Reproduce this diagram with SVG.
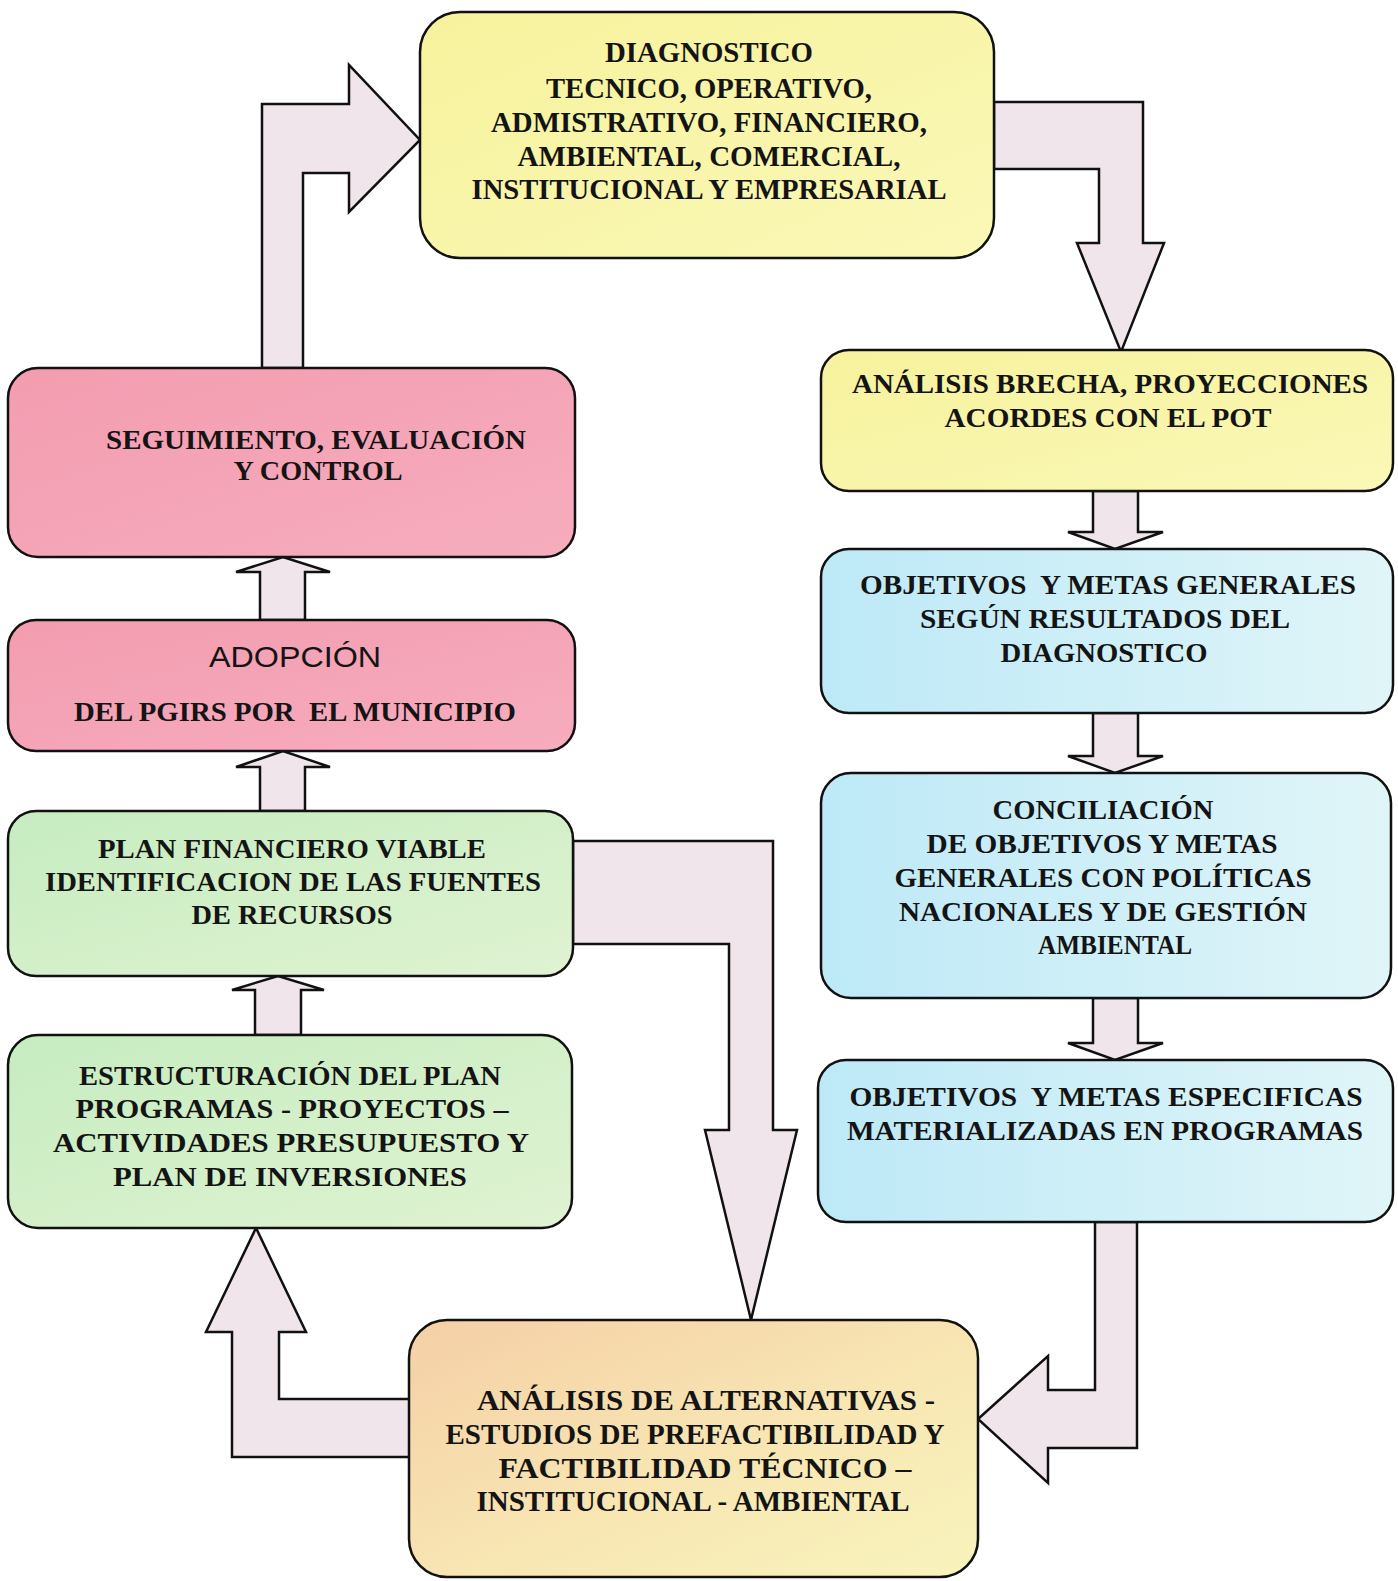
<svg xmlns="http://www.w3.org/2000/svg" width="1398" height="1581" viewBox="0 0 1398 1581">
<defs>
<linearGradient id="gYellow" x1="0" y1="0" x2="1" y2="1"><stop offset="0" stop-color="#f6f29c"/><stop offset="1" stop-color="#fbf8b8"/></linearGradient>
<linearGradient id="gPink" x1="0" y1="0" x2="1" y2="1"><stop offset="0" stop-color="#f39cb0"/><stop offset="1" stop-color="#f6adbe"/></linearGradient>
<linearGradient id="gBlue" x1="0" y1="0" x2="1" y2="0"><stop offset="0" stop-color="#bde9f7"/><stop offset="1" stop-color="#e0f5f8"/></linearGradient>
<linearGradient id="gGreen" x1="0" y1="0" x2="1" y2="1"><stop offset="0" stop-color="#c6ecc0"/><stop offset="1" stop-color="#e0f3d2"/></linearGradient>
<linearGradient id="gPeach" x1="0" y1="0" x2="1" y2="1"><stop offset="0" stop-color="#f5cfa6"/><stop offset="0.6" stop-color="#f8e8b4"/><stop offset="1" stop-color="#f8f3bc"/></linearGradient>
</defs>
<style>
.box{stroke:#111;stroke-width:2.5}
.arr{fill:#efe5ea;stroke:#111;stroke-width:2.5;stroke-linejoin:miter}
.t{font-family:"Liberation Serif","Times New Roman",serif;font-weight:bold;font-size:28px;fill:#141414;text-anchor:middle;white-space:pre}
.c{font-size:29px}
.s{font-family:"Liberation Sans",Arial,sans-serif;font-size:29px;fill:#141414;text-anchor:middle}
</style>
<rect width="1398" height="1581" fill="#ffffff"/>

<g id="connectors">
<path class="arr" d="M262 368 L262 104 L349 104 L349 65 L420 140 L349 212 L349 173 L303 173 L303 368 Z"/>
<path class="arr" d="M994 102 L1143 102 L1143 243 L1164 243 L1121 352 L1077 243 L1099 243 L1099 169 L994 169 Z"/>
<path class="arr" d="M1093 491 L1093 532 L1068 532 L1115 549 L1163 532 L1138 532 L1138 491 Z"/>
<path class="arr" d="M1093 713 L1093 756 L1068 756 L1115 773 L1163 756 L1138 756 L1138 713 Z"/>
<path class="arr" d="M1093 998 L1093 1043 L1068 1043 L1115 1060 L1163 1043 L1138 1043 L1138 998 Z"/>
<path class="arr" d="M1095 1222 L1095 1390 L1048 1390 L1048 1356 L978 1419 L1048 1483 L1048 1448 L1137 1448 L1137 1222 Z"/>
<path class="arr" d="M573 841 L773 841 L773 1130 L797 1130 L751 1320 L705 1130 L729 1130 L729 944 L573 944 Z"/>
<path class="arr" d="M410 1457 L232 1457 L232 1332 L206 1332 L256 1228 L306 1332 L279 1332 L279 1399 L410 1399 Z"/>
<path class="arr" d="M255 1035 L255 990 L232 990 L278 976 L324 990 L301 990 L301 1035 Z"/>
<path class="arr" d="M260 811 L260 767 L236 767 L283 751 L330 767 L305 767 L305 811 Z"/>
<path class="arr" d="M260 620 L260 572 L236 572 L283 557 L330 572 L305 572 L305 620 Z"/>
</g>

<g id="n-diagnostico">
<rect class="box" x="420" y="12" width="574" height="246" rx="40" fill="url(#gYellow)"/>
<text class="t c" x="709" y="62" textLength="208" lengthAdjust="spacingAndGlyphs">DIAGNOSTICO</text>
<text class="t c" x="709" y="98" textLength="326" lengthAdjust="spacingAndGlyphs">TECNICO, OPERATIVO,</text>
<text class="t c" x="709" y="132" textLength="436" lengthAdjust="spacingAndGlyphs">ADMISTRATIVO, FINANCIERO,</text>
<text class="t c" x="709" y="166" textLength="383" lengthAdjust="spacingAndGlyphs">AMBIENTAL, COMERCIAL,</text>
<text class="t c" x="709" y="199" textLength="475" lengthAdjust="spacingAndGlyphs">INSTITUCIONAL Y EMPRESARIAL</text>
</g>

<g id="n-brecha">
<rect class="box" x="821" y="350" width="572" height="141" rx="28" fill="url(#gYellow)"/>
<text class="t" x="1110" y="393" textLength="516" lengthAdjust="spacingAndGlyphs">ANÁLISIS BRECHA, PROYECCIONES</text>
<text class="t" x="1108" y="427" textLength="327" lengthAdjust="spacingAndGlyphs">ACORDES CON EL POT</text>
</g>

<g id="n-objetivos-generales">
<rect class="box" x="821" y="549" width="572" height="164" rx="28" fill="url(#gBlue)"/>
<text class="t" x="1108" y="594" textLength="496" lengthAdjust="spacingAndGlyphs">OBJETIVOS  Y METAS GENERALES</text>
<text class="t" x="1105" y="628" textLength="370" lengthAdjust="spacingAndGlyphs">SEGÚN RESULTADOS DEL</text>
<text class="t" x="1104" y="662" textLength="207" lengthAdjust="spacingAndGlyphs">DIAGNOSTICO</text>
</g>

<g id="n-conciliacion">
<rect class="box" x="821" y="773" width="570" height="225" rx="30" fill="url(#gBlue)"/>
<text class="t" x="1103" y="819" textLength="221" lengthAdjust="spacingAndGlyphs">CONCILIACIÓN</text>
<text class="t" x="1102" y="853" textLength="351" lengthAdjust="spacingAndGlyphs">DE OBJETIVOS Y METAS</text>
<text class="t" x="1103" y="887" textLength="417" lengthAdjust="spacingAndGlyphs">GENERALES CON POLÍTICAS</text>
<text class="t" x="1103" y="921" textLength="408" lengthAdjust="spacingAndGlyphs">NACIONALES Y DE GESTIÓN</text>
<text class="t" x="1115" y="954" textLength="154" lengthAdjust="spacingAndGlyphs">AMBIENTAL</text>
</g>

<g id="n-objetivos-especificas">
<rect class="box" x="818" y="1060" width="575" height="162" rx="28" fill="url(#gBlue)"/>
<text class="t" x="1106" y="1106" textLength="513" lengthAdjust="spacingAndGlyphs">OBJETIVOS  Y METAS ESPECIFICAS</text>
<text class="t" x="1105" y="1140" textLength="516" lengthAdjust="spacingAndGlyphs">MATERIALIZADAS EN PROGRAMAS</text>
</g>

<g id="n-alternativas">
<rect class="box" x="409" y="1320" width="569" height="257" rx="38" fill="url(#gPeach)"/>
<text class="t c" x="706" y="1410" textLength="458" lengthAdjust="spacingAndGlyphs">ANÁLISIS DE ALTERNATIVAS -</text>
<text class="t c" x="695" y="1444" textLength="499" lengthAdjust="spacingAndGlyphs">ESTUDIOS DE PREFACTIBILIDAD Y</text>
<text class="t c" x="705" y="1478" textLength="413" lengthAdjust="spacingAndGlyphs">FACTIBILIDAD TÉCNICO –</text>
<text class="t c" x="693" y="1511" textLength="433" lengthAdjust="spacingAndGlyphs">INSTITUCIONAL - AMBIENTAL</text>
</g>

<g id="n-estructuracion">
<rect class="box" x="8" y="1035" width="564" height="193" rx="30" fill="url(#gGreen)"/>
<text class="t" x="290" y="1085" textLength="422" lengthAdjust="spacingAndGlyphs">ESTRUCTURACIÓN DEL PLAN</text>
<text class="t" x="292" y="1118" textLength="433" lengthAdjust="spacingAndGlyphs">PROGRAMAS - PROYECTOS –</text>
<text class="t" x="291" y="1152" textLength="476" lengthAdjust="spacingAndGlyphs">ACTIVIDADES PRESUPUESTO Y</text>
<text class="t" x="290" y="1186" textLength="354" lengthAdjust="spacingAndGlyphs">PLAN DE INVERSIONES</text>
</g>

<g id="n-plan-financiero">
<rect class="box" x="8" y="811" width="565" height="165" rx="28" fill="url(#gGreen)"/>
<text class="t" x="292" y="858" textLength="388" lengthAdjust="spacingAndGlyphs">PLAN FINANCIERO VIABLE</text>
<text class="t" x="293" y="891" textLength="496" lengthAdjust="spacingAndGlyphs">IDENTIFICACION DE LAS FUENTES</text>
<text class="t" x="292" y="924" textLength="201" lengthAdjust="spacingAndGlyphs">DE RECURSOS</text>
</g>

<g id="n-adopcion">
<rect class="box" x="8" y="620" width="567" height="131" rx="28" fill="url(#gPink)"/>
<text class="s" x="295" y="667" textLength="172" lengthAdjust="spacingAndGlyphs">ADOPCIÓN</text>
<text class="t" x="295" y="721" textLength="442" lengthAdjust="spacingAndGlyphs">DEL PGIRS POR  EL MUNICIPIO</text>
</g>

<g id="n-seguimiento">
<rect class="box" x="8" y="368" width="567" height="189" rx="30" fill="url(#gPink)"/>
<text class="t" x="316" y="449" textLength="420" lengthAdjust="spacingAndGlyphs">SEGUIMIENTO, EVALUACIÓN</text>
<text class="t" x="318" y="480" textLength="169" lengthAdjust="spacingAndGlyphs">Y CONTROL</text>
</g>
</svg>
